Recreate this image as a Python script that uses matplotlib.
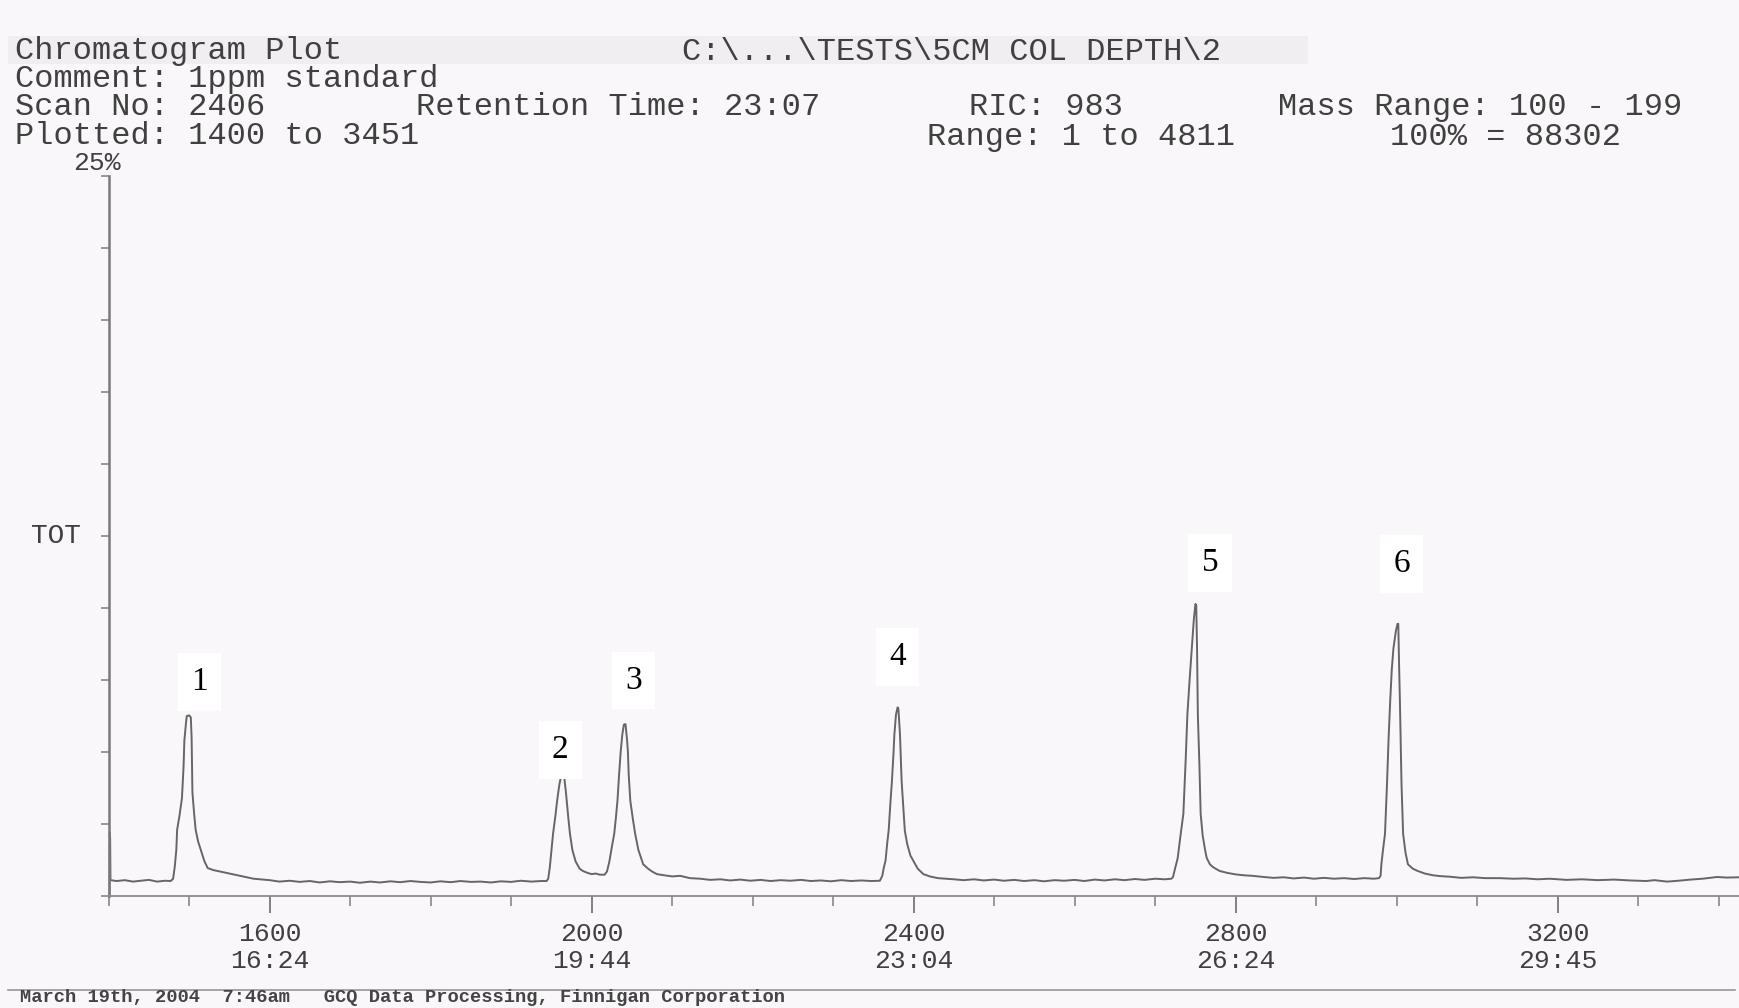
import matplotlib
matplotlib.use('Agg')
import matplotlib.pyplot as plt
from matplotlib.ticker import FixedLocator, MultipleLocator, NullFormatter
from matplotlib.lines import Line2D
from matplotlib.patches import Rectangle

# ---------------- data ----------------
# trace: scan number vs. TOT intensity (% of full scale)
scan = [1401.0, 1401.3, 1401.8, 1402.2, 1410, 1420, 1430, 1440, 1450, 1460, 1470, 1477,
        # peak 1
        1480, 1482, 1484, 1485, 1488, 1491, 1493, 1494, 1496, 1497, 1500, 1502, 1503, 1504,
        1506, 1508, 1511, 1515, 1519, 1523, 1530, 1540, 1550, 1560, 1570, 1580, 1588,
        1600, 1612, 1625, 1637, 1650, 1662, 1675, 1687, 1700, 1712, 1725, 1737, 1750, 1762,
        1775, 1787, 1800, 1812, 1825, 1837, 1850, 1862, 1875, 1887, 1900, 1912, 1925, 1937, 1944,
        # peak 2
        1946, 1948, 1950, 1952, 1955, 1957, 1960, 1962, 1964, 1966, 1968, 1969, 1971, 1973,
        1976, 1980, 1985, 1989, 1995, 2000, 2005, 2010, 2016,
        # peak 3
        2019, 2022, 2025, 2028, 2030, 2032, 2034, 2036, 2038, 2040, 2042, 2044, 2045, 2046,
        2048, 2051, 2054, 2058, 2064, 2070, 2075, 2081, 2090, 2100, 2110, 2122,
        2135, 2147, 2160, 2172, 2185, 2197, 2210, 2222, 2235, 2247, 2260, 2272, 2285, 2297,
        2310, 2322, 2335, 2347, 2358,
        # peak 4
        2361, 2363, 2365, 2367, 2369, 2371, 2373, 2375, 2376, 2378, 2380, 2381, 2383, 2384,
        2385, 2387, 2389, 2392, 2396, 2400, 2405, 2412, 2420, 2430, 2440, 2450,
        2462, 2475, 2487, 2500, 2512, 2525, 2537, 2550, 2562, 2575, 2587, 2600, 2612, 2625,
        2637, 2650, 2662, 2675, 2687, 2700, 2712, 2720,
        # peak 5
        2722, 2724, 2726, 2728, 2731, 2735, 2738, 2740, 2743, 2745.5, 2748, 2750, 2751, 2752,
        2753, 2755, 2756.5, 2759, 2762, 2764, 2768, 2772, 2780, 2790, 2800, 2810, 2821,
        2835, 2847, 2860, 2872, 2885, 2897, 2910, 2922, 2935, 2947, 2960, 2972, 2978,
        # peak 6
        2980, 2981, 2983, 2985.5, 2988, 2990, 2992, 2994, 2996, 2999, 3001, 3002, 3003, 3004,
        3005, 3006, 3008, 3011, 3014, 3020, 3026, 3035, 3045, 3054,
        3066, 3080, 3095, 3110, 3128, 3145, 3160, 3175, 3190, 3211, 3230, 3250, 3270, 3290,
        3310, 3320, 3336, 3350, 3365, 3380, 3398, 3410, 3426]

tot = [0.05, 2.2, 2.0, 0.55, 0.52, 0.55, 0.50, 0.53, 0.56, 0.50, 0.53, 0.52,
       0.60, 1.0, 1.6, 2.3, 2.8, 3.4, 4.5, 5.4, 6.0, 6.25, 6.27, 6.2, 5.5, 3.6,
       2.9, 2.3, 1.9, 1.55, 1.2, 0.97, 0.90, 0.84, 0.78, 0.72, 0.66, 0.60, 0.58,
       0.55, 0.50, 0.53, 0.49, 0.52, 0.47, 0.51, 0.48, 0.50, 0.46, 0.50, 0.47, 0.51, 0.48,
       0.52, 0.49, 0.47, 0.51, 0.48, 0.52, 0.49, 0.50, 0.47, 0.51, 0.49, 0.53, 0.50, 0.52, 0.52,
       0.60, 1.0, 1.6, 2.16, 2.8, 3.3, 3.9, 4.15, 4.2, 4.1, 3.6, 3.3, 2.7, 2.16,
       1.6, 1.2, 0.95, 0.87, 0.80, 0.76, 0.78, 0.74, 0.74,
       0.85, 1.2, 1.7, 2.16, 2.7, 3.3, 4.2, 5.0, 5.6, 5.95, 5.97, 5.4, 5.0, 4.2,
       3.3, 2.7, 2.16, 1.6, 1.1, 0.95, 0.85, 0.76, 0.72, 0.68, 0.70, 0.62,
       0.60, 0.56, 0.58, 0.54, 0.57, 0.53, 0.56, 0.52, 0.55, 0.53, 0.56, 0.52, 0.54, 0.51,
       0.55, 0.52, 0.54, 0.52, 0.53,
       0.70, 1.0, 1.22, 1.8, 2.3, 3.2, 4.0, 5.0, 5.6, 6.3, 6.55, 6.5, 5.6, 4.8,
       4.0, 3.1, 2.26, 1.8, 1.4, 1.2, 0.95, 0.76, 0.68, 0.62, 0.60, 0.58,
       0.55, 0.58, 0.54, 0.57, 0.53, 0.56, 0.52, 0.55, 0.51, 0.55, 0.53, 0.56, 0.52, 0.57,
       0.54, 0.58, 0.55, 0.59, 0.56, 0.60, 0.58, 0.60,
       0.65, 0.87, 1.1, 1.32, 2.0, 2.85, 4.8, 6.3, 7.6, 8.6, 9.6, 10.14, 10.1, 8.6,
       6.3, 4.5, 2.85, 2.1, 1.6, 1.32, 1.1, 1.0, 0.87, 0.80, 0.75, 0.72, 0.70,
       0.66, 0.63, 0.65, 0.61, 0.64, 0.60, 0.63, 0.60, 0.62, 0.59, 0.62, 0.60, 0.62,
       0.70, 1.1, 1.6, 2.16, 3.9, 5.5, 6.8, 7.9, 8.6, 9.2, 9.45, 9.45, 8.0, 6.78,
       5.3, 3.9, 2.16, 1.5, 1.1, 0.95, 0.87, 0.78, 0.72, 0.69,
       0.67, 0.63, 0.65, 0.62, 0.62, 0.60, 0.61, 0.58, 0.60, 0.56, 0.58, 0.55, 0.57, 0.54,
       0.52, 0.55, 0.50, 0.53, 0.57, 0.60, 0.66, 0.64, 0.65]

peak_ids = ['1', '2', '3', '4', '5', '6']
label_scan = [1513, 1961, 2052, 2380, 2768, 3006]
label_tot = [7.43, 5.07, 7.47, 8.30, 11.56, 11.53]

major_scans = [1600, 2000, 2400, 2800, 3200]
major_times = ['16:24', '19:44', '23:04', '26:24', '29:45']

header_lines = [
    ("Chromatogram Plot", 15, 51),
    ("C:\\...\\TESTS\\5CM COL DEPTH\\2", 682, 52),
    ("Comment: 1ppm standard", 15, 79),
    ("Scan No: 2406", 15, 107),
    ("Retention Time: 23:07", 416, 107),
    ("RIC: 983", 969, 107),
    ("Mass Range: 100 - 199", 1278, 107),
    ("Plotted: 1400 to 3451", 15, 136),
    ("Range: 1 to 4811", 927, 137),
    ("100% = 88302", 1390, 137),
]
footer = "March 19th, 2004  7:46am   GCQ Data Processing, Finnigan Corporation"

# ---------------- drawing ----------------
W, H = 1740, 1008
BG = '#f9f7f9'
INK = '#404040'
fig = plt.figure(figsize=(W / 100, H / 100), dpi=100, facecolor=BG)


def fx(px):
    return px / W


def fy(py):
    return 1 - py / H


# faint grey band of the scanned header line
fig.add_artist(Rectangle((fx(8), fy(64)), fx(1300), 28 / H, transform=fig.transFigure,
                         facecolor='#f0eef0', edgecolor='none', zorder=0))

ax = fig.add_axes([fx(108.7), fy(896), fx(1740 - 108.7), (896 - 176) / H])
ax.set_facecolor('none')
ax.set_xlim(1400, 3426.5)
ax.set_ylim(0, 25)
ax.plot(scan, tot, color='#666666', lw=1.4, clip_on=False)

for s in ['top', 'right']:
    ax.spines[s].set_visible(False)
ax.spines['left'].set_color('#7a7a7a')
ax.spines['left'].set_linewidth(1.8)
ax.spines['bottom'].set_color('#8e8894')
ax.spines['bottom'].set_linewidth(1.3)

ax.xaxis.set_major_locator(FixedLocator(major_scans))
ax.set_xticklabels([f"{s}\n{t}" for s, t in zip(major_scans, major_times)],
                   fontfamily='Liberation Mono', fontsize=19, color=INK, linespacing=1.15)
ax.xaxis.set_minor_locator(MultipleLocator(100))
ax.tick_params(axis='x', which='major', length=12, width=1.3, color='#777777', pad=7,
               direction='out')
ax.tick_params(axis='x', which='minor', length=7, width=1.2, color='#888888', direction='out')
ax.yaxis.set_major_locator(MultipleLocator(2.5))
ax.yaxis.set_major_formatter(NullFormatter())
ax.tick_params(axis='y', which='major', length=6, width=1.2, color='#888888', direction='out')

for pid, sx, ty in zip(peak_ids, label_scan, label_tot):
    ax.text(sx, ty, pid, ha='center', va='center', fontfamily='Liberation Serif',
            fontsize=24, color='black',
            bbox=dict(boxstyle='square,pad=0.4', facecolor='white', edgecolor='none'))

# axis captions
fig.text(fx(121), fy(163), "25%", ha='right', va='center', fontfamily='Liberation Mono',
         fontsize=19, color=INK)
fig.text(fx(31), fy(536), "TOT", ha='left', va='center', fontfamily='Liberation Mono',
         fontsize=20, color=INK)

# header
for txt, x, y in header_lines:
    fig.text(fx(x), fy(y), txt, ha='left', va='center', fontfamily='Liberation Mono',
             fontsize=23, color=INK)

# footer
fig.add_artist(Line2D([fx(8), fx(1735)], [fy(990), fy(990)], transform=fig.transFigure,
                      color='#9a949c', lw=1.2))
fig.text(fx(20), fy(998), footer, ha='left', va='center', fontfamily='Liberation Mono',
         fontsize=13.5, fontweight='bold', color='#444444')

fig.savefig('out.png', dpi=100, facecolor=BG)
